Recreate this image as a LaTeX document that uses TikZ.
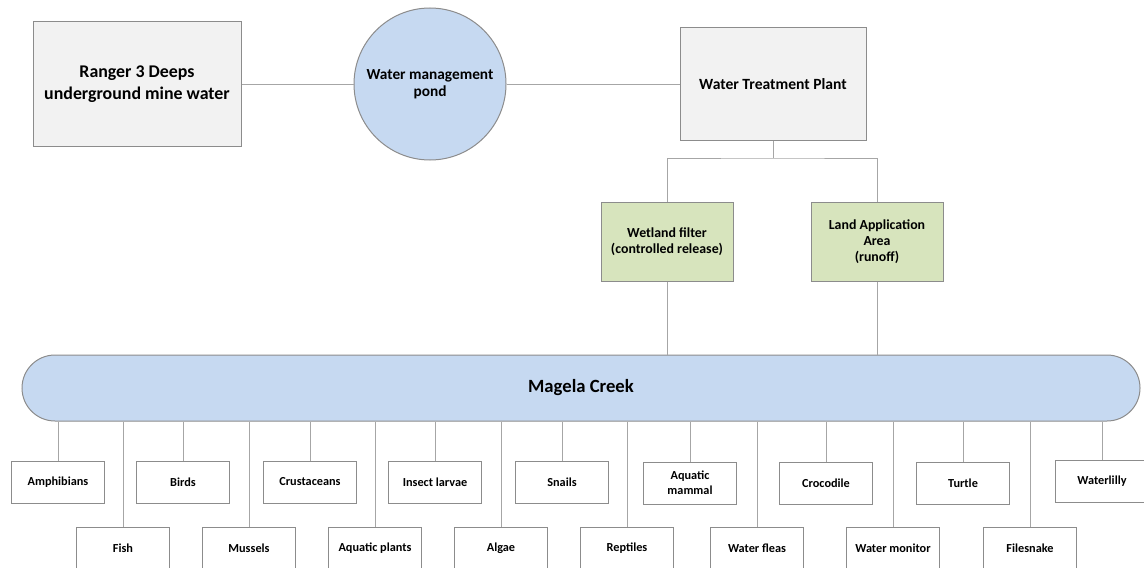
\documentclass[tikz,border=0pt]{standalone}
\usepackage{fontspec}
\setmainfont{Carlito}
\definecolor{boxgray}{HTML}{F2F2F2}
\definecolor{pondblue}{HTML}{C6D9F1}
\definecolor{filtergreen}{HTML}{D7E4BD}
\definecolor{edgegray}{HTML}{8C8C8C}
\definecolor{linkgray}{HTML}{A6A6A6}
\begin{document}
\begin{tikzpicture}[x=0.75pt, y=-0.75pt, line width=0.75pt,
  every node/.style={inner sep=0pt, align=center},
  link/.style={draw=linkgray},
  plant/.style={draw=edgegray, fill=boxgray, font=\bfseries\fontsize{13.4}{16.5}\selectfont},
  pond/.style={circle, draw=edgegray, fill=pondblue, minimum size=114pt, font=\bfseries\fontsize{11.5}{13}\selectfont},
  release/.style={draw=edgegray, fill=filtergreen, minimum width=99pt, minimum height=59.25pt, font=\bfseries\fontsize{10.4}{12}\selectfont},
  creek/.style={draw=edgegray, fill=pondblue, rounded corners=24.75pt, minimum width=838.5pt, minimum height=49.5pt, font=\bfseries\fontsize{14}{17}\selectfont},
  biota/.style={draw=edgegray, fill=white, minimum width=69.75pt, minimum height=31.5pt, font=\bfseries\fontsize{9.2}{11.2}\selectfont}]
  \useasboundingbox (0,0) rectangle (1144,567);
  \node[plant, minimum width=156pt, minimum height=93.75pt] (mine) at (137,84) {Ranger 3 Deeps\\underground mine water};
  \node[pond] (pond) at (430,84) {Water management\\pond};
  \node[plant, minimum width=139.5pt, minimum height=84pt, font=\bfseries\fontsize{11.7}{14}\selectfont] (wtp) at (773,84) {Water Treatment Plant};
  \coordinate (split) at (773,158);
  \node[release] (wetland) at (667,241.5) {Wetland filter\\(controlled release)};
  \node[release] (laa) at (877,241.5) {Land Application\\Area\\(runoff)};
  \node[creek] (creek) at (581,388) {Magela Creek};
  \draw[link] (mine) -- (pond);
  \draw[link] (pond) -- (wtp);
  \draw[link] (wtp) -- (split);
  \draw[link] (wetland) |- (split) -| (laa);
  \draw[link] (wetland) -- (wetland |- creek.north);
  \draw[link] (laa) -- (laa |- creek.north);
  % upper row
  \node[biota] (amphibians) at (58,482) {Amphibians};
  \node[biota] (birds) at (183,482) {Birds};
  \node[biota] (crustaceans) at (310,482) {Crustaceans};
  \node[biota] (larvae) at (435,482) {Insect larvae};
  \node[biota] (snails) at (562,482) {Snails};
  \node[biota] (mammal) at (690,483) {Aquatic\\mammal};
  \node[biota] (crocodile) at (826,483) {Crocodile};
  \node[biota] (turtle) at (963,483) {Turtle};
  \node[biota] (waterlilly) at (1102,481) {Waterlilly};
  % lower row
  \node[biota] (fish) at (123,548) {Fish};
  \node[biota] (mussels) at (249,548) {Mussels};
  \node[biota] (aqplants) at (375,548) {Aquatic plants};
  \node[biota] (algae) at (501,548) {Algae};
  \node[biota] (reptiles) at (627,548) {Reptiles};
  \node[biota] (fleas) at (757,548) {Water fleas};
  \node[biota] (monitor) at (893,548) {Water monitor};
  \node[biota] (filesnake) at (1030,548) {Filesnake};
  \draw[link] (amphibians) -- (amphibians |- creek.south);
  \draw[link] (birds) -- (birds |- creek.south);
  \draw[link] (crustaceans) -- (crustaceans |- creek.south);
  \draw[link] (larvae) -- (larvae |- creek.south);
  \draw[link] (snails) -- (snails |- creek.south);
  \draw[link] (mammal) -- (mammal |- creek.south);
  \draw[link] (crocodile) -- (crocodile |- creek.south);
  \draw[link] (turtle) -- (turtle |- creek.south);
  \draw[link] (waterlilly) -- (waterlilly |- creek.south);
  \draw[link] (fish) -- (fish |- creek.south);
  \draw[link] (mussels) -- (mussels |- creek.south);
  \draw[link] (aqplants) -- (aqplants |- creek.south);
  \draw[link] (algae) -- (algae |- creek.south);
  \draw[link] (reptiles) -- (reptiles |- creek.south);
  \draw[link] (fleas) -- (fleas |- creek.south);
  \draw[link] (monitor) -- (monitor |- creek.south);
  \draw[link] (filesnake) -- (filesnake |- creek.south);
\end{tikzpicture}
\end{document}
